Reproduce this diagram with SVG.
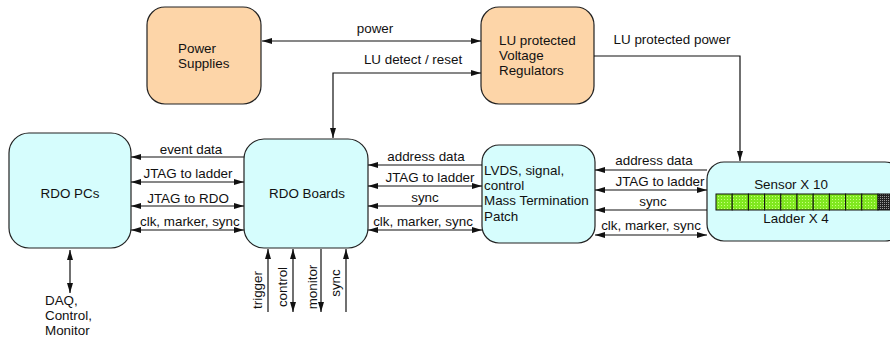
<svg xmlns="http://www.w3.org/2000/svg" width="890" height="339" viewBox="0 0 890 339">
<style>
text{font-family:"Liberation Sans",Arial,sans-serif;font-size:13.4px;fill:#111}
.orange{fill:#fdd5a8;stroke:#222;stroke-width:1.2}
.cyan{fill:#d6fdfd;stroke:#222;stroke-width:1.2}
.ln{fill:none;stroke:#111;stroke-width:1.2}
.e{marker-end:url(#ah)}
.s{marker-start:url(#ah)}
.m{text-anchor:middle}
.cell{fill:url(#gp);stroke:#111;stroke-width:1}
</style>
<defs>
<marker id="ah" viewBox="0 0 10 6" refX="10" refY="3" markerWidth="10" markerHeight="6" markerUnits="userSpaceOnUse" orient="auto-start-reverse">
<path d="M0,0 L10,3 L0,6 Z" fill="#111"/>
</marker>
<pattern id="gp" width="3" height="3" patternUnits="userSpaceOnUse">
<rect width="3" height="3" fill="#80e820"/>
<rect x="1" y="1" width="1" height="1" fill="#c8ff80"/>
</pattern>
<pattern id="dp" width="2" height="2" patternUnits="userSpaceOnUse">
<rect width="2" height="2" fill="#222"/>
<rect width="1" height="1" fill="#999"/>
</pattern>
</defs>

<g id="power-supplies">
<rect class="orange" x="147" y="7" width="114" height="97" rx="18"/>
<text x="178" y="53">Power</text>
<text x="178" y="68">Supplies</text>
</g>

<g id="voltage-regulators">
<rect class="orange" x="481" y="7" width="113" height="97" rx="18"/>
<text x="499" y="45">LU protected</text>
<text x="499" y="60">Voltage</text>
<text x="499" y="75">Regulators</text>
</g>

<g id="rdo-pcs">
<rect class="cyan" x="9" y="133" width="122" height="115" rx="20"/>
<text class="m" x="70" y="198">RDO PCs</text>
</g>

<g id="rdo-boards">
<rect class="cyan" x="244" y="139" width="124" height="109" rx="20"/>
<text class="m" x="307" y="198">RDO Boards</text>
</g>

<g id="lvds-patch">
<rect class="cyan" x="482" y="145" width="113" height="98" rx="17"/>
<text x="484" y="175">LVDS, signal,</text>
<text x="484" y="190">control</text>
<text x="484" y="205">Mass Termination</text>
<text x="484" y="221">Patch</text>
</g>

<g id="ladder">
<rect class="cyan" x="707" y="162" width="195" height="79" rx="17"/>
<text class="m" x="791" y="189">Sensor  X 10</text>
<g>
<rect class="cell" x="716" y="194" width="16.2" height="16"/>
<rect class="cell" x="732.2" y="194" width="16.2" height="16"/>
<rect class="cell" x="748.4" y="194" width="16.2" height="16"/>
<rect class="cell" x="764.6" y="194" width="16.2" height="16"/>
<rect class="cell" x="780.8" y="194" width="16.2" height="16"/>
<rect class="cell" x="797" y="194" width="16.2" height="16"/>
<rect class="cell" x="813.2" y="194" width="16.2" height="16"/>
<rect class="cell" x="829.4" y="194" width="16.2" height="16"/>
<rect class="cell" x="845.6" y="194" width="16.2" height="16"/>
<rect class="cell" x="861.8" y="194" width="16.2" height="16"/>
<rect x="878" y="194" width="14" height="16" fill="url(#dp)" stroke="#111" stroke-width="1"/>
</g>
<text class="m" x="796" y="223">Ladder X 4</text>
</g>

<g id="connectors">
<line class="ln s e" x1="262" y1="41" x2="481" y2="41"/>
<text class="m" x="375" y="33">power</text>
<polyline class="ln s e" points="333,138 333,73 481,73"/>
<text class="m" x="413" y="64">LU detect / reset</text>
<polyline class="ln e" points="594,56 740,56 740,161"/>
<text class="m" x="672" y="44">LU protected power</text>

<line class="ln e" x1="244" y1="157" x2="131" y2="157"/>
<text class="m" x="191" y="154">event data</text>
<line class="ln s e" x1="131" y1="182" x2="244" y2="182"/>
<text class="m" x="188" y="178">JTAG to ladder</text>
<line class="ln s e" x1="131" y1="206" x2="244" y2="206"/>
<text class="m" x="188" y="203">JTAG to RDO</text>
<line class="ln s e" x1="131" y1="230" x2="244" y2="230"/>
<text x="140" y="226">clk, marker, sync</text>

<line class="ln e" x1="482" y1="165" x2="368" y2="165"/>
<text class="m" x="426" y="161">address data</text>
<line class="ln s e" x1="368" y1="186" x2="482" y2="186"/>
<text class="m" x="430" y="182">JTAG to ladder</text>
<line class="ln e" x1="482" y1="206" x2="368" y2="206"/>
<text class="m" x="425" y="202">sync</text>
<line class="ln s e" x1="368" y1="230" x2="482" y2="230"/>
<text class="m" x="423" y="226">clk, marker, sync</text>

<line class="ln e" x1="707" y1="170" x2="595" y2="170"/>
<text class="m" x="654" y="165">address data</text>
<line class="ln s e" x1="595" y1="190" x2="707" y2="190"/>
<text class="m" x="660" y="186">JTAG to ladder</text>
<line class="ln e" x1="707" y1="210" x2="595" y2="210"/>
<text class="m" x="653" y="206">sync</text>
<line class="ln s e" x1="595" y1="235" x2="707" y2="235"/>
<text class="m" x="651" y="230">clk, marker, sync</text>

<line class="ln s e" x1="70" y1="250" x2="70" y2="293"/>
<text x="45" y="305">DAQ,</text>
<text x="45" y="320">Control,</text>
<text x="45" y="335">Monitor</text>

<line class="ln e" x1="268" y1="312" x2="268" y2="249"/>
<text class="m" transform="translate(262,290) rotate(-90)">trigger</text>
<line class="ln s e" x1="293" y1="249" x2="293" y2="312"/>
<text class="m" transform="translate(287,287) rotate(-90)">control</text>
<line class="ln e" x1="321" y1="249" x2="321" y2="312"/>
<text class="m" transform="translate(317,287) rotate(-90)">monitor</text>
<line class="ln e" x1="346" y1="312" x2="346" y2="249"/>
<text class="m" transform="translate(340,283) rotate(-90)">sync</text>
</g>
</svg>
